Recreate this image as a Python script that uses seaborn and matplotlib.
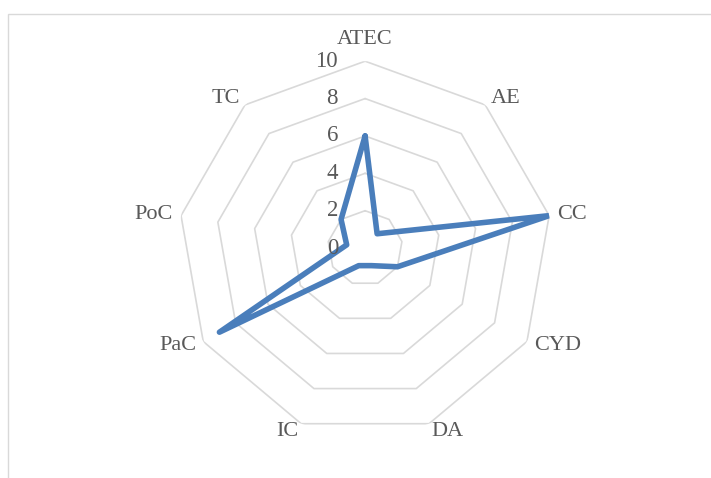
import numpy as np
import pandas as pd
import matplotlib
matplotlib.use('Agg')
import matplotlib.pyplot as plt
import seaborn as sns
from matplotlib.patches import Rectangle

# data
categorias = ["ATEC", "AE", "CC", "CYD", "DA", "IC", "PaC", "PoC", "TC"]
valores = [6, 1, 10, 2, 1, 1, 9, 1, 2]
niveis = [2, 4, 6, 8, 10]
rotulos_niveis = ["0", "2", "4", "6", "8", "10"]

sns.set_style("white")
plt.rcParams['font.family'] = ['Liberation Serif', 'DejaVu Serif']

cor_linha = '#4a7ebb'
cor_grade = '#d9d9d9'
cor_texto = '#595959'

n = len(categorias)
angulos = np.linspace(0, 2 * np.pi, n, endpoint=False)

df = pd.DataFrame({
    "angulo": np.append(angulos, angulos[0] + 2 * np.pi),
    "valor": valores + valores[:1],
})

fig = plt.figure(figsize=(7.11, 4.78), dpi=100)
# moldura cinza do grafico (so a borda de cima e da esquerda aparece)
fig.patches.append(Rectangle((8 / 711, -0.2), 1.2, 1.2 - 14 / 478, transform=fig.transFigure,
                             fill=False, edgecolor=cor_grade, linewidth=1))

ax = fig.add_axes([0.2505, 0.0900, 0.526, 0.782], projection='polar')
ax.set_theta_zero_location('N')
ax.set_theta_direction(-1)
ax.set_ylim(0, 10)
ax.grid(False)
ax.set_xticks([])
ax.set_yticks([])
ax.spines['polar'].set_visible(False)
ax.set_facecolor('none')

# aneis poligonais da grade
for nv in niveis:
    ax.plot(np.append(angulos, angulos[0]), [nv] * (n + 1), color=cor_grade, lw=1.2, zorder=1)

sns.lineplot(data=df, x="angulo", y="valor", ax=ax, sort=False, color=cor_linha,
             linewidth=4, zorder=3)
for l in ax.lines[-1:]:
    l.set_solid_joinstyle('round')
    l.set_solid_capstyle('round')
ax.set_xlabel('')
ax.set_ylabel('')

# rotulos dos valores no eixo de cima
for i, rot in enumerate(rotulos_niveis):
    ax.annotate(rot, xy=(0, i * 2), xytext=(-27, 0), textcoords='offset pixels',
                ha='right', va='center', fontsize=16.5, color=cor_texto)

# rotulos das categorias
for ang, cat in zip(angulos, categorias):
    s, c = np.sin(ang), np.cos(ang)
    if abs(s) < 0.1:
        ha, d = 'center', 22
    else:
        ha, d = ('left' if s > 0 else 'right'), 8
    ax.annotate(cat, xy=(ang, 10), xytext=(s * d, c * d), textcoords='offset pixels',
                ha=ha, va='center', fontsize=16, color=cor_texto)

fig.savefig("out.png", dpi=100)
plt.close()
